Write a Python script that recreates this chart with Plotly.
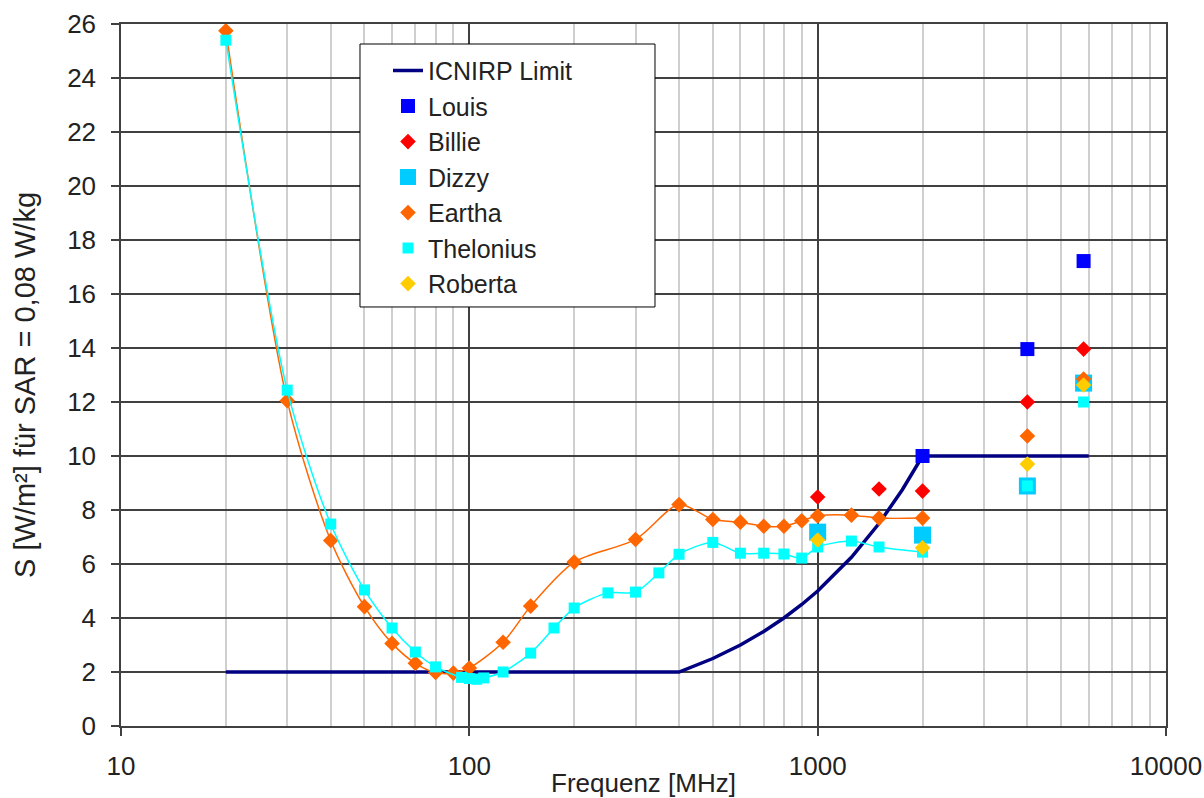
import plotly.graph_objects as go

# ---------------- data ----------------
limit_f = [20, 400, 500, 600, 700, 800, 900, 1000, 1250, 1500, 1750, 2000, 6000]
limit_s = [2, 2, 2.5, 3, 3.5, 4, 4.5, 5, 6.25, 7.5, 8.75, 10, 10]

louis_f = [2000, 4000, 5800]
louis_s = [10.0, 13.96, 17.22]

billie_f = [1000, 1500, 2000, 4000, 5800]
billie_s = [8.48, 8.78, 8.7, 12.0, 13.96]

dizzy_f = [1000, 2000, 4000, 5800]
dizzy_s = [7.18, 7.07, 8.89, 12.7]

eartha_f = [20, 30, 40, 50, 60, 70, 80, 90, 100, 125, 150, 200, 300, 400,
            500, 600, 700, 800, 900, 1000, 1250, 1500, 2000]
eartha_s = [25.75, 12.05, 6.87, 4.42, 3.06, 2.32, 1.98, 1.96, 2.15, 3.1, 4.44, 6.07, 6.91, 8.2,
            7.65, 7.55, 7.4, 7.4, 7.6, 7.78, 7.81, 7.7, 7.7]
eartha_extra_f = [4000, 5800]
eartha_extra_s = [10.74, 12.85]

thel_f = [20, 30, 40, 50, 60, 70, 80, 95, 100, 105, 110, 125, 150, 175, 200, 250, 300, 350, 400,
          500, 600, 700, 800, 900, 1000, 1250, 1500, 2000]
thel_s = [25.4, 12.44, 7.48, 5.04, 3.63, 2.74, 2.19, 1.8, 1.76, 1.73, 1.78, 2.0, 2.7, 3.63, 4.37, 4.93, 4.96, 5.67, 6.36,
          6.8, 6.4, 6.4, 6.37, 6.22, 6.63, 6.85, 6.63, 6.44]
thel_extra_f = [4000, 5800]
thel_extra_s = [8.89, 12.0]

roberta_f = [1000, 2000, 4000, 5800]
roberta_s = [6.89, 6.6, 9.7, 12.63]

x_ticks = [10, 100, 1000, 10000]
x_tick_labels = ["10", "100", "1000", "10000"]

x_title = "Frequenz [MHz]"
y_title = "S [W/m²] für SAR = 0,08 W/kg"

# ---------------- figure ----------------
FONT = "Liberation Sans, Arial, sans-serif"
TXT = "#222222"

fig = go.Figure()

fig.add_trace(go.Scatter(x=limit_f, y=limit_s, mode="lines", name="ICNIRP Limit",
                         line=dict(color="#000080", width=3.5)))
fig.add_trace(go.Scatter(x=louis_f, y=louis_s, mode="markers", name="Louis",
                         marker=dict(symbol="square", color="#0000FF", size=14)))
fig.add_trace(go.Scatter(x=billie_f, y=billie_s, mode="markers", name="Billie",
                         marker=dict(symbol="diamond", color="#FF0000", size=12)))
fig.add_trace(go.Scatter(x=dizzy_f, y=dizzy_s, mode="markers", name="Dizzy",
                         marker=dict(symbol="square", color="#00CCFF", size=17)))
fig.add_trace(go.Scatter(x=eartha_f, y=eartha_s, mode="lines+markers", name="Eartha",
                         line=dict(color="#FF6600", width=1.5, shape="spline", smoothing=0.8),
                         marker=dict(symbol="diamond", color="#FF6600", size=12),
                         showlegend=False))
fig.add_trace(go.Scatter(x=eartha_extra_f, y=eartha_extra_s, mode="markers", name="Eartha",
                         marker=dict(symbol="diamond", color="#FF6600", size=12)))
fig.add_trace(go.Scatter(x=thel_f, y=thel_s, mode="lines+markers", name="Thelonius",
                         line=dict(color="#00FFFF", width=1.5, shape="spline", smoothing=0.8),
                         marker=dict(symbol="square", color="#00FFFF", size=11),
                         showlegend=False))
fig.add_trace(go.Scatter(x=thel_extra_f, y=thel_extra_s, mode="markers", name="Thelonius",
                         marker=dict(symbol="square", color="#00FFFF", size=11)))
fig.add_trace(go.Scatter(x=roberta_f, y=roberta_s, mode="markers", name="Roberta",
                         marker=dict(symbol="diamond", color="#FFCC00", size=12)))

# Legend box (opaque white with black border)
fig.add_shape(type="rect", xref="paper", yref="paper",
              x0=0.2287, x1=0.511, y0=0.5969, y1=0.9715,
              fillcolor="white", line=dict(color="#000000", width=1), layer="above")

# Axis titles placed as annotations
fig.add_annotation(text=x_title, xref="paper", yref="paper", x=0.5, y=-0.0805,
                   xanchor="center", yanchor="middle", showarrow=False,
                   font=dict(family=FONT, size=26, color=TXT))
fig.add_annotation(text=y_title, xref="paper", yref="paper", x=-0.0919, y=0.4858,
                   xanchor="center", yanchor="middle", showarrow=False, textangle=-90,
                   font=dict(family=FONT, size=29, color=TXT))

fig.update_layout(
    width=1204, height=798,
    margin=dict(l=121, r=38, t=24, b=72),
    paper_bgcolor="white", plot_bgcolor="white",
    font=dict(family=FONT, size=26, color=TXT),
    showlegend=True,
    legend=dict(x=0.2555, y=0.966, xanchor="left", yanchor="top",
                bgcolor="rgba(0,0,0,0)", borderwidth=0,
                font=dict(family=FONT, size=25, color=TXT), tracegroupgap=0),
)

fig.update_xaxes(
    type="log", range=[1, 4], automargin=False,
    tickvals=x_ticks, ticktext=x_tick_labels,
    showgrid=True, gridcolor="#404040", gridwidth=1.5,
    minor=dict(dtick="D1", showgrid=True, gridcolor="#cfcfcf", gridwidth=1.5),
    showline=True, linecolor="#404040", linewidth=1.5, mirror=True,
    ticks="outside", ticklen=8, tickcolor="#404040", tickwidth=1.5,
    ticklabelstandoff=8,
    tickfont=dict(family=FONT, size=26, color=TXT),
    zeroline=False,
)
fig.update_yaxes(
    range=[0, 26], dtick=2, tick0=0, automargin=False,
    showgrid=True, gridcolor="#404040", gridwidth=1.5,
    showline=True, linecolor="#404040", linewidth=1.5, mirror=True,
    ticks="outside", ticklen=8, tickcolor="#404040", tickwidth=1.5,
    ticklabelstandoff=10,
    tickfont=dict(family=FONT, size=26, color=TXT),
    zeroline=False,
)

fig.write_html("out.html")
